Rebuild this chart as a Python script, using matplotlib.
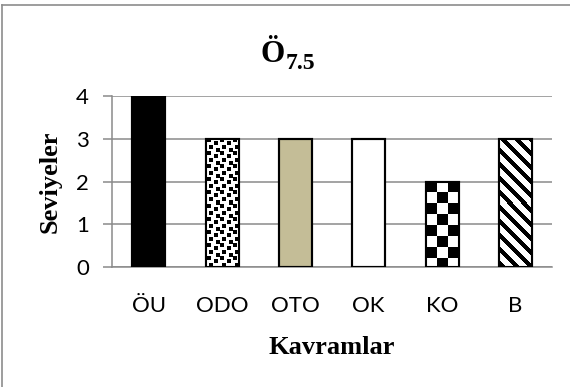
import numpy as np
import matplotlib
matplotlib.use("Agg")
import matplotlib.pyplot as plt
from matplotlib.lines import Line2D

categories = ["ÖU", "ODO", "OTO", "OK", "KO", "B"]
levels = [4, 3, 3, 3, 2, 3]
yticks = [0, 1, 2, 3, 4]

W, H = 570, 387
DPI = 100
fig = plt.figure(figsize=(W / DPI, H / DPI), dpi=DPI)
fig.patch.set_facecolor("white")


def fx(px):
    return px / W


def fy(py):
    return 1 - py / H


ax = fig.add_axes([fx(112), fy(267), fx(552) - fx(112), fy(96) - fy(267)])
ax.set_xlim(-0.5, len(categories) - 0.5)
ax.set_ylim(0, 4)

grid_c = "#8a8a8a"
ax.set_yticks(yticks)
ax.yaxis.grid(True, color=grid_c, linewidth=1.1, zorder=0)
ax.set_axisbelow(True)
for s in ["top", "right"]:
    ax.spines[s].set_visible(False)
for s in ["left", "bottom"]:
    ax.spines[s].set_color(grid_c)
    ax.spines[s].set_linewidth(1.1)

tick_size = 16
ax.tick_params(axis="y", length=6.5, width=1.1, color=grid_c, pad=10,
               labelsize=tick_size)
ax.tick_params(axis="x", length=0, pad=21, labelsize=tick_size)
ax.set_xticks(range(len(categories)))
ax.set_xticklabels(categories, fontfamily="Lato")
for lab in ax.get_yticklabels():
    lab.set_fontfamily("Lato")

bar_w = 0.45
fills = ["black", "white", "#c4bd97", "white", "white", "white"]
bars = ax.bar(range(len(categories)), levels, width=bar_w, color=fills,
              edgecolor="black", linewidth=1.5, zorder=2)


# pixel textures for the patterned bars
def dots_texture(h, w):
    img = np.ones((h, w))
    tile = 13
    pts = [(0, 1), (3, 8), (7, 3), (10, 10)]
    for r0 in range(0, h + tile, tile):
        for c0 in range(0, w + tile, tile):
            for dr, dc in pts:
                r, c = r0 + dr, c0 + dc
                img[max(r, 0):min(r + 4, h), max(c, 0):min(c + 4, w)] = 0
    return img


def checker_texture(h, w, cell=11):
    rr, cc = np.mgrid[0:h, 0:w]
    return (((rr // cell) + (cc // cell)) % 2).astype(float)


def stripe_texture(h, w, pitch=14, thick=6):
    rr, cc = np.mgrid[0:h, 0:w]
    return (((cc - rr) % pitch) >= thick).astype(float)


px_per_unit_y = (267 - 96) / 4
bar_px_w = 33
textures = {1: dots_texture, 4: checker_texture, 5: stripe_texture}
for idx, fn in textures.items():
    b = bars[idx]
    hpx = int(round(levels[idx] * px_per_unit_y))
    tex = fn(hpx, bar_px_w)
    x0 = b.get_x()
    im = ax.imshow(tex, cmap="gray", vmin=0, vmax=1, origin="upper",
                   extent=(x0, x0 + bar_w, 0, levels[idx]),
                   interpolation="nearest", aspect="auto", zorder=2.2)
    im.set_clip_path(b)

# redraw outlines on top of the textures
ax.bar(range(len(categories)), levels, width=bar_w, fill=False,
       edgecolor="black", linewidth=1.5, zorder=3)
ax.set_xlim(-0.5, len(categories) - 0.5)
ax.set_ylim(0, 4)

serif = "Liberation Serif"
# title with subscript
fig.text(fx(261), fy(62), "Ö", family=serif, weight="bold", size=22.5,
         ha="left", va="baseline")
fig.text(fx(286), fy(69), "7.5", family=serif, weight="bold", size=17,
         ha="left", va="baseline")

fig.text(fx(50), fy(181.5), "Seviyeler", family=serif, weight="bold",
         size=19, rotation=90, ha="center", va="center")
fig.text(fx(332), fy(347), "Kavramlar", family=serif, weight="bold",
         size=19, ha="center", va="center")

# chart frame (top and left edges)
fig.add_artist(Line2D([fx(2), fx(2)], [fy(4.5), 0], transform=fig.transFigure,
                      color="#8c8c8c", linewidth=1.2))
fig.add_artist(Line2D([fx(2), 1], [fy(4.5), fy(4.5)], transform=fig.transFigure,
                      color="#8c8c8c", linewidth=1.2))

fig.savefig("out.png", dpi=DPI)
